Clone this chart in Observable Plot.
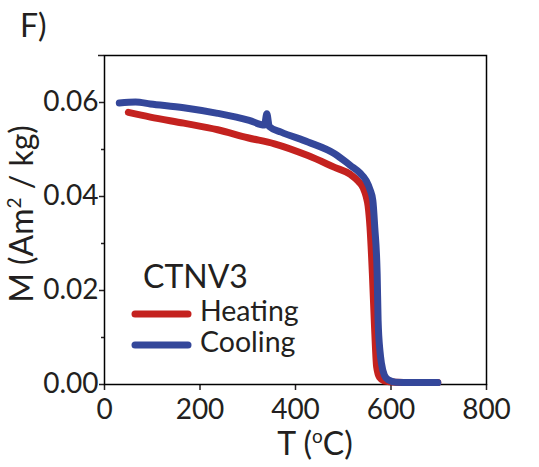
<!DOCTYPE html>
<html>
<head>
<meta charset="utf-8">
<script src="https://cdn.jsdelivr.net/npm/d3@7"></script>
<script src="https://cdn.jsdelivr.net/npm/@observablehq/plot@0.6"></script>
<style>
  html, body { margin: 0; padding: 0; background: #fff; }
  #chart { position: relative; width: 539px; height: 467px; }
</style>
</head>
<body>
<div id="chart"></div>
<script>
// Thermomagnetic curve of sample CTNV3: magnetisation M versus temperature T
const heatingT = [50, 96, 166, 237, 300, 356, 426, 482, 515, 532, 542, 548, 552, 556, 561, 565, 570, 576, 585, 610, 698];
const heatingM = [0.0579, 0.0569, 0.0556, 0.0542, 0.0525, 0.0512, 0.0487, 0.0462, 0.0447, 0.0432, 0.0418, 0.0400, 0.0380, 0.0335, 0.0236, 0.0136, 0.0037, 0.0015, 0.0008, 0.0005, 0.0004];

const coolingT = [31, 65, 96, 166, 237, 303, 335, 340, 345, 370, 426, 482, 515, 535, 548, 556, 562, 566, 571, 573, 577, 580, 586, 594, 610, 698];
const coolingM = [0.0599, 0.0601, 0.0597, 0.0589, 0.0577, 0.0562, 0.0552, 0.0576, 0.0549, 0.0537, 0.0516, 0.0491, 0.0466, 0.0450, 0.0434, 0.0415, 0.0391, 0.0334, 0.0236, 0.0136, 0.0070, 0.0045, 0.0020, 0.0010, 0.0005, 0.0004];

const xTicks = [0, 200, 400, 600, 800];
const yTicks = [0, 0.02, 0.04, 0.06];
const yMinorTicks = [0.01, 0.03, 0.05];
const yTopTick = [0.07];

const sampleName = "CTNV3";
const seriesNames = ["Heating", "Cooling"];
const seriesColors = ["#c4221f", "#34479a"];

const heating = heatingT.map((T, i) => ({T, M: heatingM[i]}));
const cooling = coolingT.map((T, i) => ({T, M: coolingM[i]}));

const font = "Lato, 'Open Sans', sans-serif";
const ink = "#231f20";

const svg = Plot.plot({
  width: 539,
  height: 467,
  marginLeft: 104,
  marginRight: 53,
  marginTop: 55,
  marginBottom: 83,
  style: {fontFamily: font, background: "#fff", color: ink, overflow: "visible"},
  x: {domain: [0, 800]},
  y: {domain: [0, 0.07]},
  marks: [
    Plot.axisX({ticks: xTicks, tickSize: 6, tickPadding: 9, fontSize: 28, label: null, strokeWidth: 1.5, color: ink}),
    Plot.axisY({ticks: yTicks, tickFormat: d3.format(".2f"), tickSize: 5, tickPadding: 1, fontSize: 28, label: null, strokeWidth: 1.5, color: ink}),
    Plot.axisY({ticks: yMinorTicks, tickFormat: null, text: null, tickSize: 3, label: null, strokeWidth: 1.5, color: ink}),
    Plot.axisY({ticks: yTopTick, tickFormat: null, text: null, tickSize: 6, label: null, strokeWidth: 1.5, color: ink}),
    Plot.frame({stroke: "#000", strokeWidth: 1.5}),
    Plot.line(heating, {x: "T", y: "M", stroke: seriesColors[0], strokeWidth: 7, curve: "monotone-x"}),
    Plot.line(cooling, {x: "T", y: "M", stroke: seriesColors[1], strokeWidth: 7, curve: "monotone-x"})
  ]
});

document.getElementById("chart").appendChild(svg);

// Panel letter, axis titles and the in-plot legend
const s = d3.select(svg);
const addText = (x, y, size, content) =>
  s.append("text").attr("x", x).attr("y", y)
    .attr("text-anchor", "start")
    .attr("font-family", font).attr("font-size", size).attr("fill", ink)
    .text(content);

addText(20, 37, 32, "F)");

const yTitle = s.append("text")
  .attr("transform", "translate(33,214) rotate(-90)")
  .attr("text-anchor", "middle")
  .attr("font-family", font).attr("font-size", 32).attr("fill", ink);
yTitle.append("tspan").text("M (Am");
yTitle.append("tspan").attr("font-size", 19).attr("dy", -12).text("2");
yTitle.append("tspan").attr("dy", 12).text(" / kg)");

const xTitle = s.append("text")
  .attr("x", 315).attr("y", 455)
  .attr("text-anchor", "middle")
  .attr("font-family", font).attr("font-size", 32).attr("fill", ink);
xTitle.append("tspan").text("T (");
xTitle.append("tspan").attr("font-size", 19).attr("dy", -12).text("o");
xTitle.append("tspan").attr("dy", 12).text("C)");

addText(143, 288, 32, sampleName);

const legendRows = [{y: 314, text: 321}, {y: 345, text: 352}];
seriesNames.forEach((name, i) => {
  s.append("line")
    .attr("x1", 135).attr("x2", 188)
    .attr("y1", legendRows[i].y).attr("y2", legendRows[i].y)
    .attr("stroke", seriesColors[i]).attr("stroke-width", 7)
    .attr("stroke-linecap", "round");
  addText(200, legendRows[i].text, 28.5, name);
});
</script>
</body>
</html>
